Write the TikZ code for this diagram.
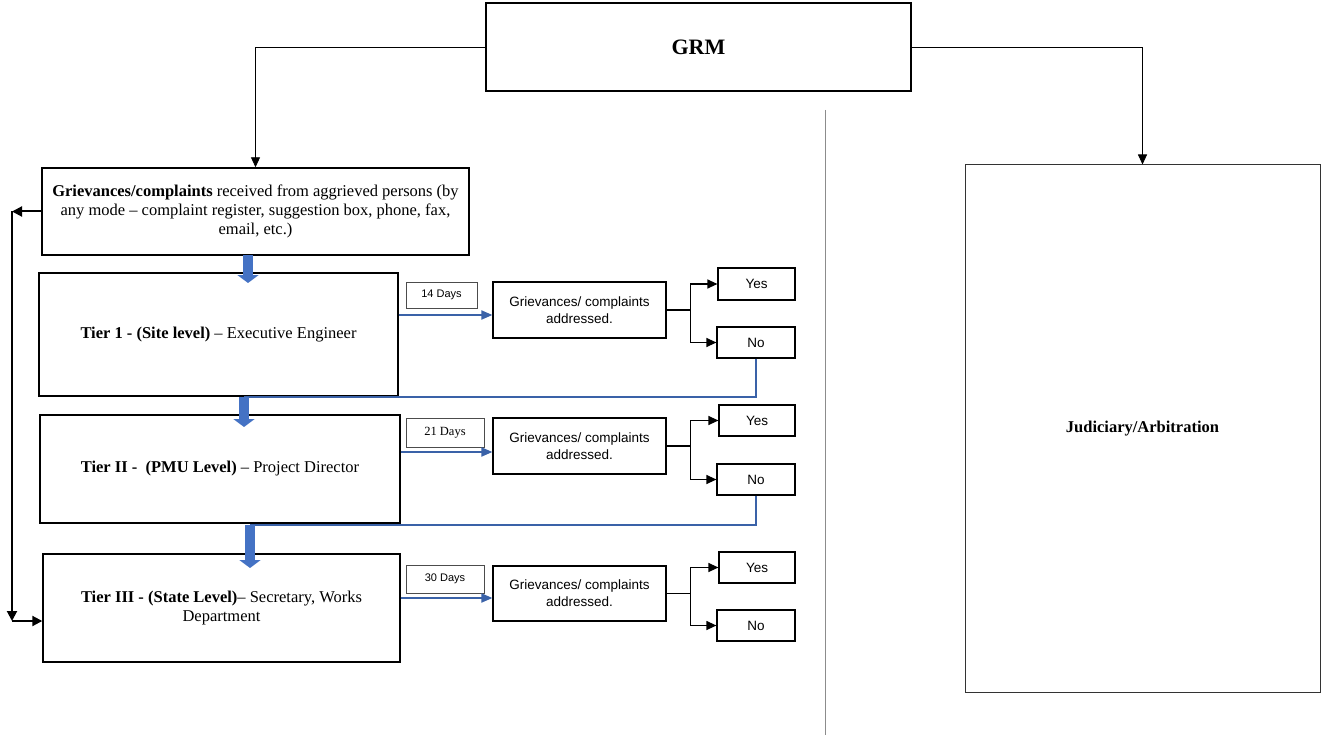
\documentclass[tikz,border=0pt]{standalone}
\usepackage{fontspec}
\setmainfont{Liberation Serif}
\newfontfamily\arialfont{Liberation Sans}
\usetikzlibrary{arrows.meta}
\definecolor{blu}{HTML}{4472C4}
\definecolor{bluline}{HTML}{3A62A8}
\begin{document}
\begin{tikzpicture}[x=1pt,y=-1pt,
  box/.style={draw, line width=1.4pt, inner sep=2pt, align=center, font=\fontsize{16.5}{19}\selectfont},
  sbox/.style={draw, line width=1.2pt, inner sep=1pt, align=center, font=\arialfont\fontsize{13.5}{17}\selectfont},
  dbox/.style={draw=black!70, line width=0.8pt, inner sep=1pt, align=center},
  thinarrow/.style={draw, line width=0.9pt, -{Triangle[width=9pt,length=10pt]}},
  branch/.style={draw, line width=1.2pt, -{Triangle[width=9pt,length=10pt]}},
  bluearrow/.style={draw=bluline, line width=1.8pt, -{Triangle[width=9pt,length=11pt]}},
  blueline/.style={draw=bluline, line width=2pt},
  bigarrow/.style={draw=blu, line width=10pt, -{Triangle[width=21pt,length=8pt]}},
  looparrow/.style={draw, line width=2pt, -{Triangle[width=10pt,length=10pt]}},
]
\useasboundingbox (0,0) rectangle (1321,735);
\fill[white] (0,0) rectangle (1321,735);

% divider
\draw[black!45, line width=1pt] (825,110) -- (825,735);

% nodes
\node[box, minimum width=425pt, minimum height=88pt, font=\bfseries\fontsize{22}{26}\selectfont] (grm) at (698.5,47) {GRM};
\node[box, minimum width=427pt, minimum height=87pt] (grv) at (255.5,211.5)
  {\textbf{Grievances/complaints} received from aggrieved persons (by\\any mode – complaint register, suggestion box, phone, fax,\\email, etc.)};
\node[box, minimum width=359pt, minimum height=123pt] (t1) at (218.5,334.5)
  {\textbf{Tier 1 - (Site level)} – Executive Engineer};
\node[box, minimum width=360pt, minimum height=108pt] (t2) at (220,469)
  {\textbf{Tier II -\ \ (PMU Level)} – Project Director};
\node[box, minimum width=357pt, minimum height=108pt] (t3) at (221.5,608)
  {\textbf{Tier III - (State Level)}– Secretary, Works\\Department};

\node[dbox, minimum width=71pt, minimum height=26pt, font=\arialfont\fontsize{11}{13}\selectfont] (d1) at (441.5,295) {14 Days};
\node[dbox, minimum width=78pt, minimum height=29pt, font=\fontsize{12.5}{14}\selectfont] (d2) at (445,432.5) {21 Days};
\node[dbox, minimum width=78pt, minimum height=28pt, font=\arialfont\fontsize{11}{13}\selectfont] (d3) at (445,579) {30 Days};

\node[sbox, minimum width=173pt, minimum height=56pt] (g1) at (579.5,310) {Grievances/ complaints\\addressed.};
\node[sbox, minimum width=173pt, minimum height=56pt] (g2) at (579.5,446) {Grievances/ complaints\\addressed.};
\node[sbox, minimum width=173pt, minimum height=55pt] (g3) at (579.5,593.5) {Grievances/ complaints\\addressed.};

\node[sbox, minimum width=77pt, minimum height=32pt] (y1) at (756.5,284) {Yes};
\node[sbox, minimum width=78pt, minimum height=31pt] (n1) at (756,342.5) {No};
\node[sbox, minimum width=76pt, minimum height=31pt] (y2) at (757,420.5) {Yes};
\node[sbox, minimum width=78pt, minimum height=31pt] (n2) at (756,479.5) {No};
\node[sbox, minimum width=76pt, minimum height=31pt] (y3) at (757,567.5) {Yes};
\node[sbox, minimum width=78pt, minimum height=31pt] (n3) at (756,625.5) {No};

\node[draw=black!80, line width=1pt, minimum width=355pt, minimum height=527pt, font=\bfseries\fontsize{16.5}{19}\selectfont] (jud) at (1142.5,428.5) {Judiciary/Arbitration};

% GRM connectors
\draw[thinarrow] (grm.west) -| (grv.north);
\draw[thinarrow] (grm.east) -| (jud.north);

% thick blue arrows
\coordinate (s1) at (248,255);
\coordinate (e1) at (248,283);
\draw[bigarrow] (s1) -- (e1);

\coordinate (j1) at (244,397);
\coordinate (e2) at (244,427);
\draw[blueline] (n1.south) |- (j1);
\draw[bigarrow] (j1) -- (e2);

\coordinate (j2) at (250,525);
\coordinate (e3) at (250,568);
\draw[blueline] (n2.south) |- (j2);
\draw[bigarrow] (j2) -- (e3);

% blue day arrows
\path ([yshift=-5pt]g1.west) coordinate (g1in);
\path ([yshift=-6pt]g2.west) coordinate (g2in);
\path ([yshift=-4.5pt]g3.west) coordinate (g3in);
\draw[bluearrow] (g1in -| t1.east) -- (g1in);
\draw[bluearrow] (g2in -| t2.east) -- (g2in);
\draw[bluearrow] (g3in -| t3.east) -- (g3in);

% branches
\draw[branch] (g1.east) -- ++(24,0) |- (y1.west);
\draw[branch] (g1.east) -- ++(24,0) |- (n1.west);
\draw[branch] (g2.east) -- ++(24,0) |- (y2.west);
\draw[branch] (g2.east) -- ++(24,0) |- (n2.west);
\draw[branch] (g3.east) -- ++(24,0) |- (y3.west);
\draw[branch] (g3.east) -- ++(24,0) |- (n3.west);

% left loop
\coordinate (L1) at (12,211.5);
\coordinate (L2) at (12,621);
\draw[looparrow] (grv.west) -- (L1);
\draw[looparrow] (L1) -- (L2);
\draw[looparrow] (L2) -- (L2 -| t3.west);
\end{tikzpicture}
\end{document}
